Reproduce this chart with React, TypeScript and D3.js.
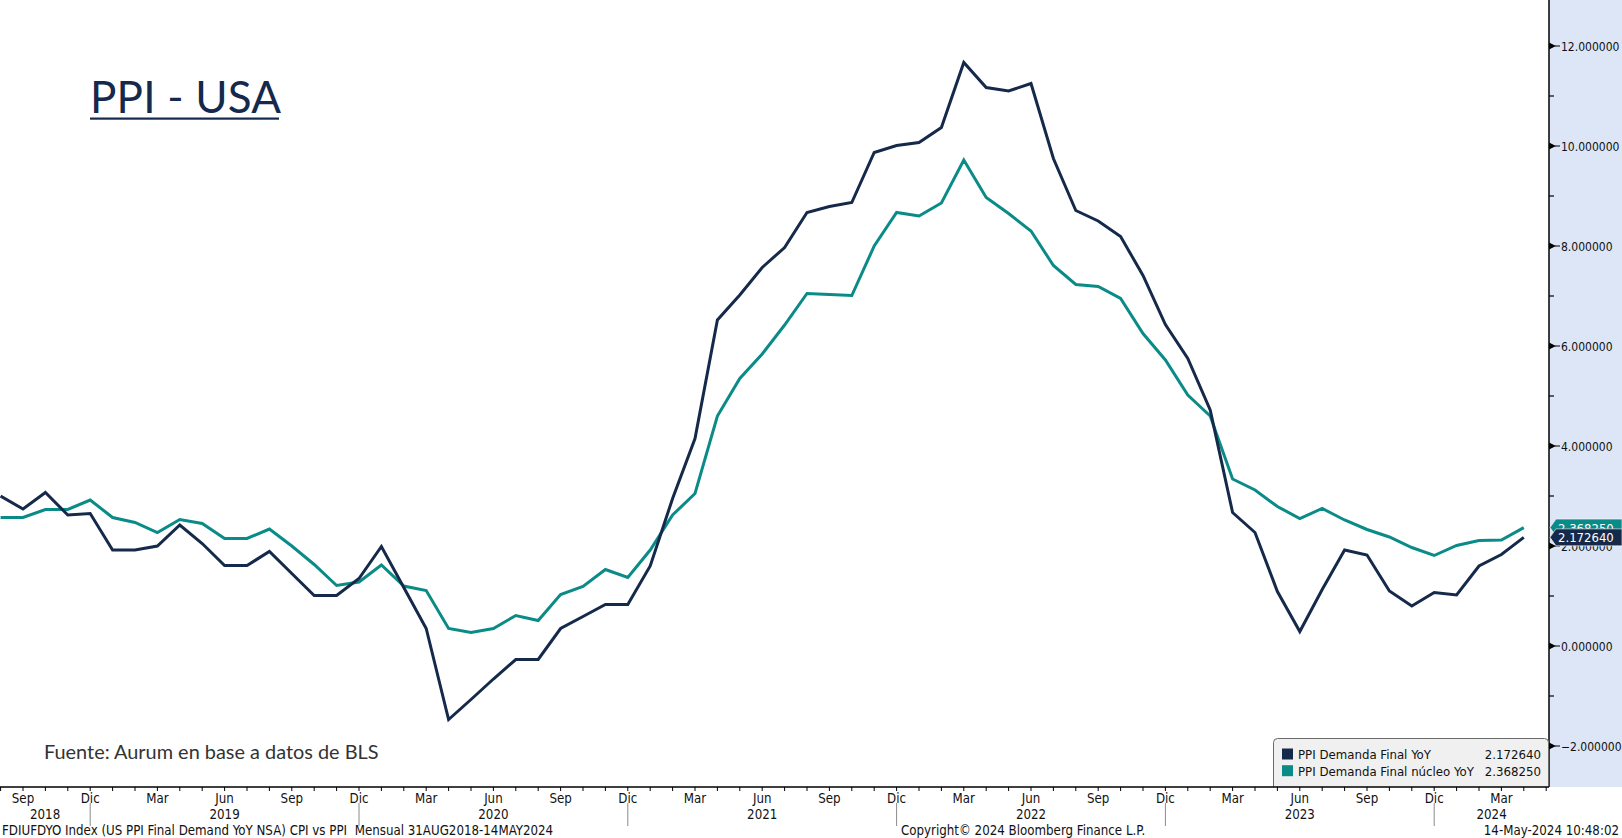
import * as d3 from "d3";

// monthly readings, Aug 2018 .. Apr 2024
const startMonth = new Date(Date.UTC(2018, 7, 1));

const ppiFinal = [
  3.0, 2.74, 3.07, 2.62, 2.65,
  1.92, 1.92, 2.0, 2.42, 2.05, 1.61, 1.61, 1.89, 1.45, 1.01, 1.01, 1.35,
  1.99, 1.17, 0.35, -1.47, -1.07, -0.66, -0.27, -0.27, 0.35, 0.59, 0.83, 0.83,
  1.6, 2.95, 4.15, 6.52, 7.02, 7.57, 7.97, 8.67, 8.79, 8.87, 9.87, 10.01,
  10.07, 10.37, 11.67, 11.17, 11.1, 11.25, 9.75, 8.71, 8.5, 8.19, 7.41, 6.43,
  5.75, 4.72, 2.67, 2.27, 1.09, 0.29, 1.13, 1.92, 1.82, 1.1, 0.8, 1.07,
  1.02, 1.6, 1.83, 2.17264,
];

const ppiCore = [
  2.57, 2.57, 2.73, 2.73, 2.92,
  2.57, 2.47, 2.27, 2.53, 2.45, 2.15, 2.15, 2.34, 2.0, 1.63, 1.21, 1.28,
  1.62, 1.2, 1.11, 0.35, 0.27, 0.35, 0.61, 0.51, 1.03, 1.19, 1.53, 1.37,
  1.92, 2.62, 3.05, 4.6, 5.35, 5.84, 6.42, 7.05, 7.03, 7.01, 8.0, 8.67,
  8.6, 8.86, 9.72, 8.97, 8.65, 8.3, 7.61, 7.23, 7.19, 6.95, 6.25, 5.72,
  5.02, 4.6, 3.34, 3.12, 2.79, 2.55, 2.75, 2.52, 2.33, 2.18, 1.97, 1.81,
  2.01, 2.11, 2.12, 2.36825,
];

const seriesNames = ["PPI Demanda Final YoY", "PPI Demanda Final núcleo YoY"];
const seriesColors = ["#15294a", "#0a8b88"];

const monthNames = ["Ene", "Feb", "Mar", "Abr", "May", "Jun", "Jul", "Ago", "Sep", "Oct", "Nov", "Dic"];
const labelMonths = ["Mar", "Jun", "Sep", "Dic"];
const yMajorTicks = [-2, 0, 2, 4, 6, 8, 10, 12];
const yMinorTicks = [-1, 1, 3, 5, 7, 9, 11];

const W = 1622;
const H = 838;
const axisX = 1549;
const axisY = 787;
const bbFont = "Tahoma, 'DejaVu Sans Condensed', 'DejaVu Sans', sans-serif";
const titleFont = "Lato, 'Noto Sans', sans-serif";

export default function App() {
  const nMonths = ppiFinal.length; // 69
  const x = d3.scaleLinear().domain([0, nMonths]).range([0.6, 1546.2]);
  const y = d3.scaleLinear().domain([-2, 12]).range([746, 46]);

  const months = d3.range(nMonths + 1).map((i) => d3.utcMonth.offset(startMonth, i));

  const line = d3
    .line<number>()
    .x((_, i) => x(i))
    .y((d) => y(d));

  // year separators sit on each December tick
  const decIdx = months.map((m, i) => (m.getUTCMonth() === 11 ? i : -1)).filter((i) => i >= 0);
  const bounds = [0, ...decIdx.map((i) => x(i)), axisX];
  const years = d3.range(bounds.length - 1).map((k) => ({
    label: String(startMonth.getUTCFullYear() + k),
    cx: (bounds[k] + bounds[k + 1]) / 2,
  }));

  const series = [ppiFinal, ppiCore];
  const tags = [
    { v: ppiCore[ppiCore.length - 1], c: seriesColors[1] },
    { v: ppiFinal[ppiFinal.length - 1], c: seriesColors[0] },
  ];

  return (
    <>
      <style>{`body{margin:0}`}</style>
      <svg width={W} height={H} style={{ display: "block" }}>
        <defs>
          <clipPath id="plot">
            <rect x={0} y={0} width={axisX} height={axisY} />
          </clipPath>
        </defs>
        <rect width={W} height={H} fill="#ffffff" />
        <rect x={axisX} y={0} width={W - axisX} height={axisY} fill="#dde6f6" />

        {/* title */}
        <text x={90} y={113} fontFamily={titleFont} fontSize={44} fill="#14294b" letterSpacing={0.2}>
          PPI - USA
        </text>
        <rect x={90} y={117.5} width={189} height={2.2} fill="#14294b" />

        <text x={44} y={759} fontFamily={titleFont} fontSize={19.9} fill="#333">
          Fuente: Aurum en base a datos de BLS
        </text>

        {/* series */}
        <g clipPath="url(#plot)" fill="none" strokeWidth={3}>
          <path d={line(ppiCore) ?? ""} stroke={seriesColors[1]} />
          <path d={line(ppiFinal) ?? ""} stroke={seriesColors[0]} />
        </g>

        {/* right axis */}
        <line x1={axisX} x2={axisX} y1={0} y2={axisY} stroke="#000" strokeWidth={1.5} />
        {yMinorTicks.map((t) => (
          <line key={t} x1={axisX} x2={axisX + 5} y1={y(t)} y2={y(t)} stroke="#000" strokeWidth={1.2} />
        ))}
        {yMajorTicks.map((t) => (
          <g key={t} transform={`translate(${axisX},${y(t)})`}>
            <path d="M0,-3.5L7,0L0,3.5Z" fill="#000" />
            <line x1={6} x2={11} y1={0} y2={0} stroke="#000" strokeWidth={1} />
            <text x={12} y={4.5} fontFamily={bbFont} fontSize={12} fill="#111">
              {d3.format(".6f")(t)}
            </text>
          </g>
        ))}

        {/* last value tags; the core tag sits partly under the headline one */}
        {tags.map((t, k) => {
          const yc = y(t.v);
          return (
            <g key={k}>
              <path
                d={`M${axisX + 1},${yc}L${axisX + 7},${yc - 8.5}H${W}V${yc + 8.5}H${axisX + 7}Z`}
                fill={t.c}
                stroke="#ffffff"
                strokeWidth={0.6}
              />
              <text x={axisX + 9} y={yc + 5} fontFamily={bbFont} fontSize={13} fill="#ffffff">
                {d3.format(".6f")(t.v)}
              </text>
            </g>
          );
        })}

        {/* legend */}
        <rect x={1273.5} y={738.5} width={275} height={54} rx={4} fill="#f0f0f0" stroke="#6b6b6b" />
        {seriesNames.map((name, k) => {
          const cy = 754 + k * 16.7;
          const last = series[k][series[k].length - 1];
          return (
            <g key={name}>
              <rect x={1282} y={cy - 5.5} width={11} height={11} fill={seriesColors[k]} />
              <text x={1298} y={cy + 5} fontFamily={bbFont} fontSize={13.1} fill="#111">
                {name}
              </text>
              <text x={1541} y={cy + 5} textAnchor="end" fontFamily={bbFont} fontSize={13.1} fill="#111">
                {d3.format(".6f")(last)}
              </text>
            </g>
          );
        })}

        {/* bottom axis */}
        <rect x={0} y={axisY} width={W} height={H - axisY} fill="#ffffff" />
        <line x1={0} x2={axisX} y1={axisY} y2={axisY} stroke="#000" strokeWidth={1.5} />
        {months.map((m, i) => (
          <line key={i} x1={x(i)} x2={x(i)} y1={axisY} y2={axisY + 4} stroke="#000" strokeWidth={1} />
        ))}
        {months.map((m, i) => {
          const name = monthNames[m.getUTCMonth()];
          if (!labelMonths.includes(name) || i >= nMonths) return null;
          return (
            <text key={i} x={x(i)} y={802.5} textAnchor="middle" fontFamily={bbFont} fontSize={13.2} fill="#111">
              {name}
            </text>
          );
        })}
        {decIdx.map((i) => (
          <line key={i} x1={x(i)} x2={x(i)} y1={803} y2={826} stroke="#8a8a8a" strokeWidth={1} />
        ))}
        {years.map((yr) => (
          <text key={yr.label} x={yr.cx} y={818.5} textAnchor="middle" fontFamily={bbFont} fontSize={13.2} fill="#111">
            {yr.label}
          </text>
        ))}

        {/* footer */}
        <g fontFamily={bbFont} fontSize={13.2} fill="#111">
          <text x={2} y={834.5} xmlSpace="preserve">
            {"FDIUFDYO Index (US PPI Final Demand YoY NSA) CPI vs PPI  Mensual 31AUG2018-14MAY2024"}
          </text>
          <text x={901} y={834.5}>Copyright© 2024 Bloomberg Finance L.P.</text>
          <text x={1619} y={834.5} textAnchor="end">14-May-2024 10:48:02</text>
        </g>
      </svg>
    </>
  );
}
